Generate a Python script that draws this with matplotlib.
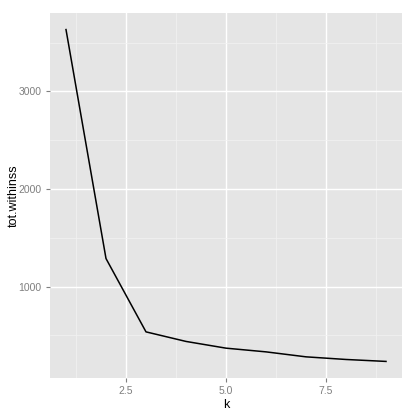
import numpy as np
import matplotlib
matplotlib.use("Agg")
import matplotlib.pyplot as plt

plt.rcParams["font.family"] = ["Liberation Sans", "DejaVu Sans"]

# elbow curve values
k = [1, 2, 3, 4, 5, 6, 7, 8, 9]
tot_withinss = [3635, 1287, 535, 437, 368, 330, 279, 252, 232]
x_ticks = [2.5, 5.0, 7.5]
y_ticks = [1000, 2000, 3000]

fig = plt.figure(figsize=(4.15, 4.15), dpi=100)
ax = fig.add_axes([50 / 415, 37 / 415, 352 / 415, 365 / 415])
ax.set_facecolor("#E5E5E5")

ax.plot(k, tot_withinss, color="black", linewidth=1.1, zorder=3)

ax.set_xlim(0.6, 9.4)
ax.set_ylim(62, 3805)
ax.set_xticks(x_ticks)
ax.set_xticklabels(["2.5", "5.0", "7.5"])
ax.set_yticks(y_ticks)
ax.set_xticks([1.25, 3.75, 6.25, 8.75], minor=True)
ax.set_yticks([500, 1500, 2500, 3500], minor=True)

ax.grid(True, which="major", color="white", linewidth=1.0, zorder=1)
ax.grid(True, which="minor", color="#F2F2F2", linewidth=0.5, zorder=1)
ax.set_axisbelow(True)

for s in ax.spines.values():
    s.set_visible(False)

ax.tick_params(which="major", colors="#7F7F7F", labelsize=7.5, length=3, width=0.8, pad=3)
ax.tick_params(which="minor", length=0)

ax.set_xlabel("k", fontsize=9, labelpad=2)
ax.set_ylabel("tot.withinss", fontsize=9, va="center")
# keep the label inside the figure, centred about 14 px from the left edge
ax.yaxis.set_label_coords((14 - 50) / 352, 0.5)

plt.savefig("out.png", dpi=100)
